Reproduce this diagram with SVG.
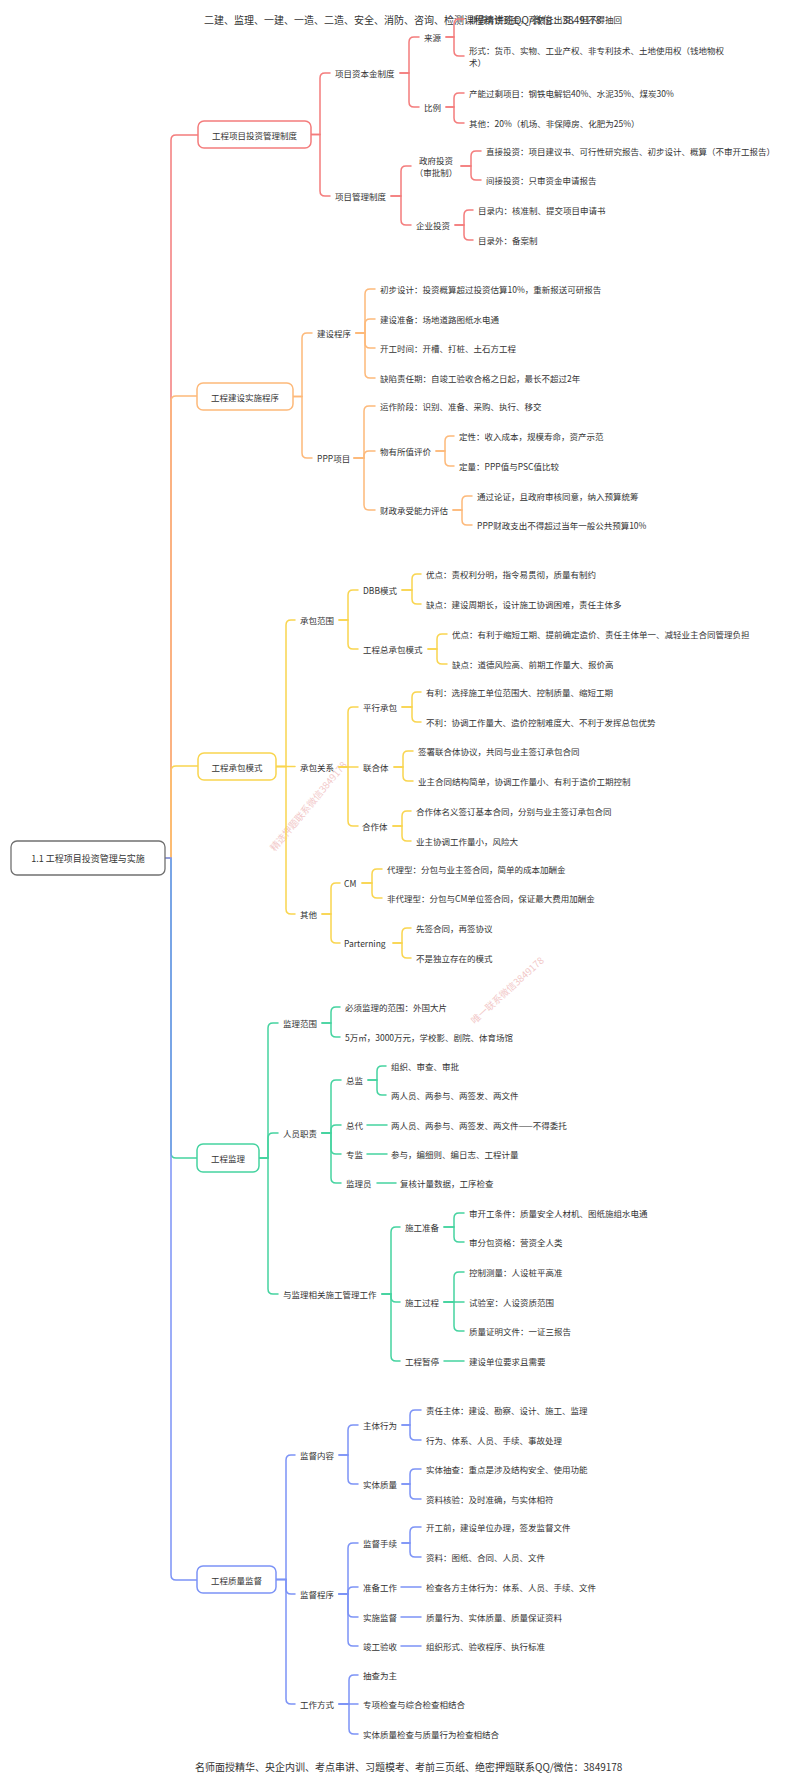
<svg xmlns="http://www.w3.org/2000/svg" width="800" height="1782" viewBox="0 0 800 1782">
<style>
text{font-family:"Noto Sans CJK SC","Noto Sans",sans-serif;font-size:8.5px;fill:#333;dominant-baseline:central}
.big{font-size:10px}
.mid{text-anchor:middle}
.box{fill:#fff;stroke-width:1.5}
.c path{fill:none;stroke-width:1.5;stroke-linecap:round}
.r{stroke:#F47C7C}.o{stroke:#FDB97A}.y{stroke:#F9D54F}.g{stroke:#45D3A0}.b{stroke:#7C93F6}
.wm{font-size:9.5px;fill:#E89A9A;opacity:0.55}
</style>
<rect width="800" height="1782" fill="#fff"/>
<text class="big" x="204" y="19">二建、监理、一建、一造、二造、安全、消防、咨询、检测课程精讲班QQ/微信：3849178</text>
<text class="big" x="195" y="1766">名师面授精华、央企内训、考点串讲、习题模考、考前三页纸、绝密押题联系QQ/微信：3849178</text>
<text class="wm" transform="translate(308,806) rotate(-50)" text-anchor="middle">精选押题联系微信3849178</text>
<text class="wm" transform="translate(507,990) rotate(-42)" text-anchor="middle">唯一联系微信3849178</text>
<g id="connectors" class="c">
<g class="r">
<path d="M165,858 H171 V140 Q171,135 176,135 H198"/>
<path d="M311,134.5 H320 V78 Q320,73 325,73 H330"/>
<path d="M311,134.5 H320 V191 Q320,196 325,196 H330"/>
<path d="M400,73 H409 V42 Q409,37 414,37 H419"/>
<path d="M400,73 H409 V102 Q409,107 414,107 H419"/>
<path d="M446,37 H454 V24 Q454,19 459,19 H464"/>
<path d="M446,37 H454 V51 Q454,56 459,56 H464"/>
<path d="M446,107 H454 V98 Q454,93 459,93 H464"/>
<path d="M446,107 H454 V118 Q454,123 459,123 H464"/>
<path d="M391,196 H401 V171 Q401,166 406,166 H411"/>
<path d="M391,196 H401 V220 Q401,225 406,225 H411"/>
<path d="M461,166 H471 V156 Q471,151 476,151 H481"/>
<path d="M461,166 H471 V175 Q471,180 476,180 H481"/>
<path d="M455,225 H464 V215 Q464,210 469,210 H473"/>
<path d="M455,225 H464 V235 Q464,240 469,240 H473"/>
</g>
<g class="y">
<path d="M165,858 H171 V771 Q171,766 176,766 H198"/>
<path d="M276,766.5 H286 V625 Q286,620 291,620 H295"/>
<path d="M276,766.5 H295"/>
<path d="M276,766.5 H286 V909 Q286,914 291,914 H295"/>
<path d="M339,620 H348 V595 Q348,590 353,590 H358"/>
<path d="M339,620 H348 V644 Q348,649 353,649 H358"/>
<path d="M402,590 H412 V579 Q412,574 417,574 H421"/>
<path d="M402,590 H412 V599 Q412,604 417,604 H421"/>
<path d="M428,649 H437 V639 Q437,634 442,634 H447"/>
<path d="M428,649 H437 V659 Q437,664 442,664 H447"/>
<path d="M339,767 H348 V712 Q348,707 353,707 H358"/>
<path d="M339,767 H358"/>
<path d="M339,767 H348 V821 Q348,826 353,826 H358"/>
<path d="M402,707 H412 V697 Q412,692 417,692 H421"/>
<path d="M402,707 H412 V717 Q412,722 417,722 H421"/>
<path d="M394,767 H403 V756 Q403,751 408,751 H413"/>
<path d="M394,767 H403 V776 Q403,781 408,781 H413"/>
<path d="M393,826 H402 V816 Q402,811 407,811 H411"/>
<path d="M393,826 H402 V836 Q402,841 407,841 H411"/>
<path d="M322,914 H331 V888 Q331,883 336,883 H340"/>
<path d="M322,914 H331 V938 Q331,943 336,943 H340"/>
<path d="M362,883 H372 V874 Q372,869 377,869 H382"/>
<path d="M362,883 H372 V893 Q372,898 377,898 H382"/>
<path d="M393,943 H402 V933 Q402,928 407,928 H411"/>
<path d="M393,943 H402 V953 Q402,958 407,958 H411"/>
</g>
<g class="g">
<path d="M165,858 H171 V1153 Q171,1158 176,1158 H197"/>
<path d="M259,1158 H268 V1028 Q268,1023 273,1023 H278"/>
<path d="M259,1158 H268 V1138 Q268,1133 273,1133 H278"/>
<path d="M259,1158 H268 V1289 Q268,1294 273,1294 H278"/>
<path d="M322,1023 H331 V1012 Q331,1007 336,1007 H340"/>
<path d="M322,1023 H331 V1032 Q331,1037 336,1037 H340"/>
<path d="M322,1133 H331 V1085 Q331,1080 336,1080 H341"/>
<path d="M322,1133 H331 V1130 Q331,1125 336,1125 H341"/>
<path d="M322,1133 H331 V1149 Q331,1154 336,1154 H341"/>
<path d="M322,1133 H331 V1178 Q331,1183 336,1183 H341"/>
<path d="M368,1080 H377 V1071 Q377,1066 382,1066 H386"/>
<path d="M368,1080 H377 V1090 Q377,1095 382,1095 H386"/>
<path d="M367,1125 H387"/>
<path d="M367,1154 H387"/>
<path d="M377,1183 H396"/>
<path d="M382,1294 H391 V1232 Q391,1227 396,1227 H400"/>
<path d="M382,1294 H391 V1297 Q391,1302 396,1302 H400"/>
<path d="M382,1294 H391 V1356 Q391,1361 396,1361 H400"/>
<path d="M444,1227 H454 V1218 Q454,1213 459,1213 H464"/>
<path d="M444,1227 H454 V1237 Q454,1242 459,1242 H464"/>
<path d="M444,1302 H454 V1277 Q454,1272 459,1272 H464"/>
<path d="M444,1302 H464"/>
<path d="M444,1302 H454 V1326 Q454,1331 459,1331 H464"/>
<path d="M444,1361 H464"/>
</g>
<g class="o">
<path d="M165,858 H171 V401 Q171,396 176,396 H197"/>
<path d="M293,396.5 H302 V338 Q302,333 307,333 H312"/>
<path d="M293,396.5 H302 V453 Q302,458 307,458 H312"/>
<path d="M356,333 H365 V294 Q365,289 370,289 H375"/>
<path d="M356,333 H365 V324 Q365,319 370,319 H375"/>
<path d="M356,333 H365 V343 Q365,348 370,348 H375"/>
<path d="M356,333 H365 V373 Q365,378 370,378 H375"/>
<path d="M354,458 H364 V411 Q364,406 369,406 H375"/>
<path d="M354,458 H364 V456 Q364,451 369,451 H375"/>
<path d="M354,458 H364 V505 Q364,510 369,510 H375"/>
<path d="M436,451 H445 V441 Q445,436 450,436 H454"/>
<path d="M436,451 H445 V461 Q445,466 450,466 H454"/>
<path d="M453,510 H462 V501 Q462,496 467,496 H472"/>
<path d="M453,510 H462 V520 Q462,525 467,525 H472"/>
</g>
<g class="b">
<path d="M165,858 H171 V1575 Q171,1580 176,1580 H197"/>
<path d="M276,1579.5 H286 V1460 Q286,1455 291,1455 H295"/>
<path d="M276,1579.5 H286 V1589 Q286,1594 291,1594 H295"/>
<path d="M276,1579.5 H286 V1699 Q286,1704 291,1704 H295"/>
<path d="M339,1455 H348 V1430 Q348,1425 353,1425 H358"/>
<path d="M339,1455 H348 V1479 Q348,1484 353,1484 H358"/>
<path d="M402,1425 H410 V1415 Q410,1410 415,1410 H421"/>
<path d="M402,1425 H410 V1435 Q410,1440 415,1440 H421"/>
<path d="M402,1484 H410 V1474 Q410,1469 415,1469 H421"/>
<path d="M402,1484 H410 V1494 Q410,1499 415,1499 H421"/>
<path d="M339,1594 H348 V1548 Q348,1543 353,1543 H358"/>
<path d="M339,1594 H348 V1592 Q348,1587 353,1587 H358"/>
<path d="M339,1594 H348 V1612 Q348,1617 353,1617 H358"/>
<path d="M339,1594 H348 V1641 Q348,1646 353,1646 H358"/>
<path d="M402,1543 H410 V1532 Q410,1527 415,1527 H421"/>
<path d="M402,1543 H410 V1552 Q410,1557 415,1557 H421"/>
<path d="M401,1587 H421"/>
<path d="M401,1617 H421"/>
<path d="M401,1646 H421"/>
<path d="M339,1704 H349 V1680 Q349,1675 354,1675 H358"/>
<path d="M339,1704 H358"/>
<path d="M339,1704 H349 V1729 Q349,1734 354,1734 H358"/>
</g>
</g>

<g id="root"><rect x="11" y="841" width="154" height="34" rx="6" fill="#fff" stroke="#707070" stroke-width="1.3"/><text class="mid" x="88" y="858" style="font-size:9px">1.1 工程项目投资管理与实施</text></g>

<g id="n1"><rect class="box r" x="198" y="121" width="113" height="27" rx="6"/><text class="mid" x="254.5" y="134.5">工程项目投资管理制度</text></g>
<g id="n1-1"><text x="335" y="73">项目资本金制度</text></g>
<g id="n1-1-1"><text x="424" y="37">来源</text></g>
<g id="n1-1-1-1"><text x="469" y="19">非债务性资金，可转让出资，但不得抽回</text></g>
<g id="n1-1-1-2"><text x="469" y="50">形式：货币、实物、工业产权、非专利技术、土地使用权（钱地物权</text><text x="469" y="62">术）</text></g>
<g id="n1-1-2"><text x="424" y="107">比例</text></g>
<g id="n1-1-2-1"><text x="469" y="93">产能过剩项目：钢铁电解铝40%、水泥35%、煤炭30%</text></g>
<g id="n1-1-2-2"><text x="469" y="123">其他：20%（机场、非保障房、化肥为25%）</text></g>
<g id="n1-2"><text x="335" y="196">项目管理制度</text></g>
<g id="n1-2-1"><text class="mid" x="436" y="160">政府投资</text><text class="mid" x="436" y="172">（审批制）</text></g>
<g id="n1-2-1-1"><text x="486" y="151">直接投资：项目建议书、可行性研究报告、初步设计、概算（不审开工报告）</text></g>
<g id="n1-2-1-2"><text x="486" y="180">间接投资：只审资金申请报告</text></g>
<g id="n1-2-2"><text x="416" y="225">企业投资</text></g>
<g id="n1-2-2-1"><text x="478" y="210">目录内：核准制、提交项目申请书</text></g>
<g id="n1-2-2-2"><text x="478" y="240">目录外：备案制</text></g>

<g id="n2"><rect class="box o" x="197" y="383" width="96" height="27" rx="6"/><text class="mid" x="245" y="396.5">工程建设实施程序</text></g>
<g id="n2-1"><text x="317" y="333">建设程序</text></g>
<g id="n2-1-1"><text x="380" y="289">初步设计：投资概算超过投资估算10%，重新报送可研报告</text></g>
<g id="n2-1-2"><text x="380" y="319">建设准备：场地道路图纸水电通</text></g>
<g id="n2-1-3"><text x="380" y="348">开工时间：开槽、打桩、土石方工程</text></g>
<g id="n2-1-4"><text x="380" y="378">缺陷责任期：自竣工验收合格之日起，最长不超过2年</text></g>
<g id="n2-2"><text x="317" y="458">PPP项目</text></g>
<g id="n2-2-1"><text x="380" y="406">运作阶段：识别、准备、采购、执行、移交</text></g>
<g id="n2-2-2"><text x="380" y="451">物有所值评价</text></g>
<g id="n2-2-2-1"><text x="459" y="436">定性：收入成本，规模寿命，资产示范</text></g>
<g id="n2-2-2-2"><text x="459" y="466">定量：PPP值与PSC值比较</text></g>
<g id="n2-2-3"><text x="380" y="510">财政承受能力评估</text></g>
<g id="n2-2-3-1"><text x="477" y="496">通过论证，且政府审核同意，纳入预算统筹</text></g>
<g id="n2-2-3-2"><text x="477" y="525">PPP财政支出不得超过当年一般公共预算10%</text></g>

<g id="n3"><rect class="box y" x="198" y="753" width="78" height="27" rx="6"/><text class="mid" x="237" y="766.5">工程承包模式</text></g>
<g id="n3-1"><text x="300" y="620">承包范围</text></g>
<g id="n3-1-1"><text x="363" y="590">DBB模式</text></g>
<g id="n3-1-1-1"><text x="426" y="574">优点：责权利分明，指令易贯彻，质量有制约</text></g>
<g id="n3-1-1-2"><text x="426" y="604">缺点：建设周期长，设计施工协调困难，责任主体多</text></g>
<g id="n3-1-2"><text x="363" y="649">工程总承包模式</text></g>
<g id="n3-1-2-1"><text x="452" y="634">优点：有利于缩短工期、提前确定造价、责任主体单一、减轻业主合同管理负担</text></g>
<g id="n3-1-2-2"><text x="452" y="664">缺点：道德风险高、前期工作量大、报价高</text></g>
<g id="n3-2"><text x="300" y="767">承包关系</text></g>
<g id="n3-2-1"><text x="363" y="707">平行承包</text></g>
<g id="n3-2-1-1"><text x="426" y="692">有利：选择施工单位范围大、控制质量、缩短工期</text></g>
<g id="n3-2-1-2"><text x="426" y="722">不利：协调工作量大、造价控制难度大、不利于发挥总包优势</text></g>
<g id="n3-2-2"><text x="363" y="767">联合体</text></g>
<g id="n3-2-2-1"><text x="418" y="751">签署联合体协议，共同与业主签订承包合同</text></g>
<g id="n3-2-2-2"><text x="418" y="781">业主合同结构简单，协调工作量小、有利于造价工期控制</text></g>
<g id="n3-2-3"><text x="362" y="826">合作体</text></g>
<g id="n3-2-3-1"><text x="416" y="811">合作体名义签订基本合同，分别与业主签订承包合同</text></g>
<g id="n3-2-3-2"><text x="416" y="841">业主协调工作量小，风险大</text></g>
<g id="n3-3"><text x="300" y="914">其他</text></g>
<g id="n3-3-1"><text x="344" y="883">CM</text></g>
<g id="n3-3-1-1"><text x="387" y="869">代理型：分包与业主签合同，简单的成本加酬金</text></g>
<g id="n3-3-1-2"><text x="387" y="898">非代理型：分包与CM单位签合同，保证最大费用加酬金</text></g>
<g id="n3-3-2"><text x="344" y="943">Parterning</text></g>
<g id="n3-3-2-1"><text x="416" y="928">先签合同，再签协议</text></g>
<g id="n3-3-2-2"><text x="416" y="958">不是独立存在的模式</text></g>

<g id="n4"><rect class="box g" x="197" y="1144" width="62" height="28" rx="6"/><text class="mid" x="228" y="1158">工程监理</text></g>
<g id="n4-1"><text x="283" y="1023">监理范围</text></g>
<g id="n4-1-1"><text x="345" y="1007">必须监理的范围：外国大片</text></g>
<g id="n4-1-2"><text x="345" y="1037">5万㎡，3000万元，学校影、剧院、体育场馆</text></g>
<g id="n4-2"><text x="283" y="1133">人员职责</text></g>
<g id="n4-2-1"><text x="346" y="1080">总监</text></g>
<g id="n4-2-1-1"><text x="391" y="1066">组织、审查、审批</text></g>
<g id="n4-2-1-2"><text x="391" y="1095">两人员、两参与、两签发、两文件</text></g>
<g id="n4-2-2"><text x="346" y="1125">总代</text></g>
<g id="n4-2-2-1"><text x="391" y="1125">两人员、两参与、两签发、两文件——不得委托</text></g>
<g id="n4-2-3"><text x="346" y="1154">专监</text></g>
<g id="n4-2-3-1"><text x="391" y="1154">参与，编细则、编日志、工程计量</text></g>
<g id="n4-2-4"><text x="346" y="1183">监理员</text></g>
<g id="n4-2-4-1"><text x="400" y="1183">复核计量数据，工序检查</text></g>
<g id="n4-3"><text x="283" y="1294">与监理相关施工管理工作</text></g>
<g id="n4-3-1"><text x="405" y="1227">施工准备</text></g>
<g id="n4-3-1-1"><text x="469" y="1213">审开工条件：质量安全人材机、图纸施组水电通</text></g>
<g id="n4-3-1-2"><text x="469" y="1242">审分包资格：营资全人类</text></g>
<g id="n4-3-2"><text x="405" y="1302">施工过程</text></g>
<g id="n4-3-2-1"><text x="469" y="1272">控制测量：人设桩平高准</text></g>
<g id="n4-3-2-2"><text x="469" y="1302">试验室：人设资质范围</text></g>
<g id="n4-3-2-3"><text x="469" y="1331">质量证明文件：一证三报告</text></g>
<g id="n4-3-3"><text x="405" y="1361">工程暂停</text></g>
<g id="n4-3-3-1"><text x="469" y="1361">建设单位要求且需要</text></g>

<g id="n5"><rect class="box b" x="197" y="1566" width="79" height="27" rx="6"/><text class="mid" x="236.5" y="1579.5">工程质量监督</text></g>
<g id="n5-1"><text x="300" y="1455">监督内容</text></g>
<g id="n5-1-1"><text x="363" y="1425">主体行为</text></g>
<g id="n5-1-1-1"><text x="426" y="1410">责任主体：建设、勘察、设计、施工、监理</text></g>
<g id="n5-1-1-2"><text x="426" y="1440">行为、体系、人员、手续、事故处理</text></g>
<g id="n5-1-2"><text x="363" y="1484">实体质量</text></g>
<g id="n5-1-2-1"><text x="426" y="1469">实体抽查：重点是涉及结构安全、使用功能</text></g>
<g id="n5-1-2-2"><text x="426" y="1499">资料核验：及时准确，与实体相符</text></g>
<g id="n5-2"><text x="300" y="1594">监督程序</text></g>
<g id="n5-2-1"><text x="363" y="1543">监督手续</text></g>
<g id="n5-2-1-1"><text x="426" y="1527">开工前，建设单位办理，签发监督文件</text></g>
<g id="n5-2-1-2"><text x="426" y="1557">资料：图纸、合同、人员、文件</text></g>
<g id="n5-2-2"><text x="363" y="1587">准备工作</text></g>
<g id="n5-2-2-1"><text x="426" y="1587">检查各方主体行为：体系、人员、手续、文件</text></g>
<g id="n5-2-3"><text x="363" y="1617">实施监督</text></g>
<g id="n5-2-3-1"><text x="426" y="1617">质量行为、实体质量、质量保证资料</text></g>
<g id="n5-2-4"><text x="363" y="1646">竣工验收</text></g>
<g id="n5-2-4-1"><text x="426" y="1646">组织形式、验收程序、执行标准</text></g>
<g id="n5-3"><text x="300" y="1704">工作方式</text></g>
<g id="n5-3-1"><text x="363" y="1675">抽查为主</text></g>
<g id="n5-3-2"><text x="363" y="1704">专项检查与综合检查相结合</text></g>
<g id="n5-3-3"><text x="363" y="1734">实体质量检查与质量行为检查相结合</text></g>
</svg>
